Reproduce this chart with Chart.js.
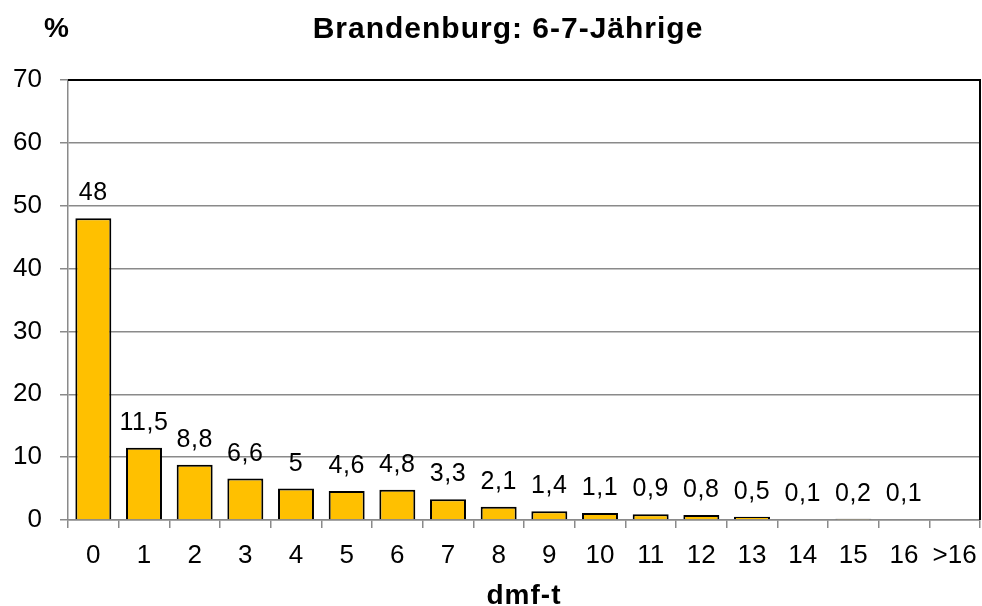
<!DOCTYPE html>
<html>
<head>
<meta charset="utf-8">
<script src="https://cdn.jsdelivr.net/npm/chart.js@4/dist/chart.umd.min.js"></script>
<style>
html,body{margin:0;padding:0;background:#fff;}
#wrap{width:982px;height:606px;position:relative;}
</style>
</head>
<body>
<div id="wrap"><canvas id="c" width="982" height="606"></canvas></div>
<script>
const categories = ["0","1","2","3","4","5","6","7","8","9","10","11","12","13","14","15","16",">16"];
const values = [48, 11.5, 8.8, 6.6, 5, 4.6, 4.8, 3.3, 2.1, 1.4, 1.1, 0.9, 0.8, 0.5, 0.1, 0.2, 0.1, null];
const yTicks = [0, 10, 20, 30, 40, 50, 60, 70];
const titleText = "Brandenburg: 6-7-Jährige";
const yUnit = "%";
const xTitle = "dmf-t";

const FONT = "'Liberation Sans', Arial, sans-serif";
const GRID = "#8a8a8a";

const textPlugin = {
  id: 'texts',
  afterDatasetsDraw(chart) {
    const ctx = chart.ctx;
    const meta = chart.getDatasetMeta(0);
    ctx.save();
    ctx.fillStyle = '#000';
    ctx.font = "25px " + FONT;
    ctx.letterSpacing = "0.6px";
    ctx.textAlign = 'center';
    ctx.textBaseline = 'alphabetic';
    meta.data.forEach((bar, i) => {
      const v = values[i];
      if (v === null || v === undefined) return;
      ctx.fillText(String(v).replace('.', ','), bar.x, bar.y - 18);
    });
    // borders top/right
    const a = chart.chartArea;
    ctx.strokeStyle = '#000';
    ctx.lineWidth = 2;
    ctx.beginPath();
    ctx.moveTo(a.left, a.top);
    ctx.lineTo(a.right, a.top);
    ctx.lineTo(a.right, a.bottom);
    ctx.stroke();
    // title
    ctx.letterSpacing = "1px";
    ctx.font = "bold 30px " + FONT;
    ctx.fillText(titleText, 508, 38);
    ctx.font = "bold 28px " + FONT;
    ctx.fillText(yUnit, 57, 37);
    ctx.fillText(xTitle, (a.left + a.right) / 2, 604);
    ctx.restore();
  }
};

new Chart(document.getElementById('c'), {
  type: 'bar',
  data: {
    labels: categories,
    datasets: [{
      data: values,
      backgroundColor: '#FFC000',
      borderColor: '#000',
      borderWidth: 2,
      categoryPercentage: 1,
      barPercentage: 0.71
    }]
  },
  options: {
    responsive: false,
    animation: false,
    events: [],
    layout: { padding: { top: 80, right: 2, left: 0, bottom: 0 } },
    plugins: { legend: { display: false }, tooltip: { enabled: false }, title: { display: false } },
    scales: {
      x: {
        offset: true,
        grid: { display: true, offset: true, drawOnChartArea: false, drawTicks: true, tickLength: 8, color: GRID, lineWidth: 1.5 },
        border: { display: true, color: GRID, width: 1.5 },
        ticks: { color: '#000', font: { family: FONT, size: 26 }, padding: 12, maxRotation: 0, autoSkip: false },
        afterFit(s) { s.height = 86; s.paddingLeft = 0; s.paddingRight = 0; }
      },
      y: {
        min: 0, max: 70,
        afterBuildTicks(s) { s.ticks = yTicks.map(v => ({ value: v })); },
        grid: { color: GRID, lineWidth: 1.5, tickLength: 8, drawTicks: true },
        border: { display: true, color: GRID, width: 1.5 },
        ticks: { color: '#000', font: { family: FONT, size: 26 }, padding: 18 },
        afterFit(s) { s.width = 68; s.paddingTop = 0; s.paddingBottom = 0; }
      }
    }
  },
  plugins: [textPlugin]
});
</script>
</body>
</html>
